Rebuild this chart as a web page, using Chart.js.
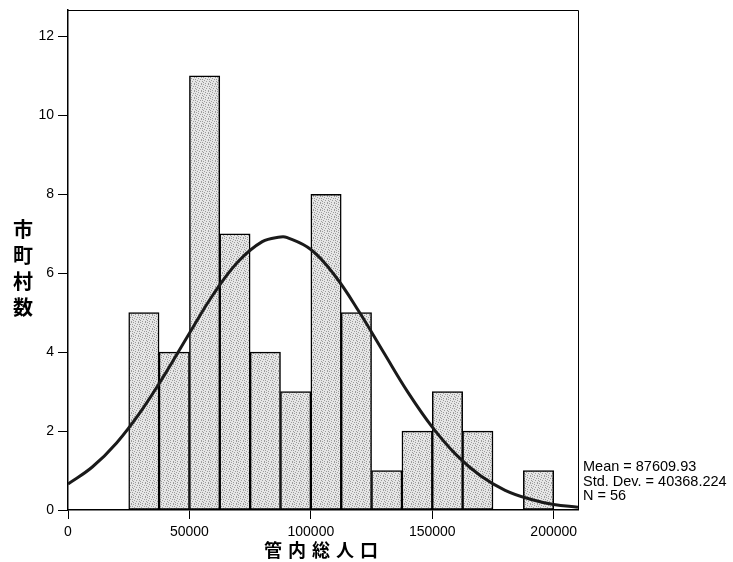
<!DOCTYPE html>
<html>
<head>
<meta charset="utf-8">
<script src="https://cdn.jsdelivr.net/npm/chart.js@4/dist/chart.umd.min.js"></script>
<style>
  html, body { margin: 0; padding: 0; background: #fff; }
</style>
</head>
<body>
<canvas id="histChart" width="733" height="562"></canvas>
<script>
// bin centres (bin width 12500) and counts
var binCenters = [31250, 43750, 56250, 68750, 81250, 93750, 106250, 118750, 131250, 143750, 156250, 168750, 181250, 193750];
var binCounts = [5, 4, 11, 7, 4, 3, 8, 5, 1, 2, 3, 2, 0, 1];

// normal curve
var curveX = [0, 10000, 20000, 30000, 40000, 50000, 60000, 70000, 80000, 87500, 90000, 100000, 110000, 120000, 130000, 140000, 150000, 160000, 170000, 180000, 190000, 200000, 210000];
var curveY = [0.66, 1.09, 1.70, 2.50, 3.45, 4.48, 5.48, 6.29, 6.80, 6.92, 6.91, 6.60, 5.93, 5.01, 3.99, 2.98, 2.10, 1.39, 0.86, 0.50, 0.28, 0.14, 0.07];

var xTicks = [0, 50000, 100000, 150000, 200000];
var yTicks = [0, 2, 4, 6, 8, 10, 12];

var statLines = ['Mean = 87609.93', 'Std. Dev. = 40368.224', 'N = 56'];
var xTitle = '管内総人口';
var yTitle = '市町村数';

// stippled grey fill like the original print (fixed 8x8 dot mask)
var dotMask = [
  '1000010',
  '0010000',
  '0000101',
  '0100000',
  '0001001',
  '1000000',
  '0010010'
];
function makePattern() {
  var n = dotMask.length;
  var c = document.createElement('canvas');
  c.width = n; c.height = n;
  var g = c.getContext('2d');
  g.fillStyle = '#e6e6e6';
  g.fillRect(0, 0, n, n);
  g.fillStyle = '#9c9c9c';
  dotMask.forEach(function (row, y) {
    for (var x = 0; x < row.length; x++) {
      if (row[x] === '1') g.fillRect(x, y, 1, 1);
    }
  });
  return g.createPattern(c, 'repeat');
}

var framePlugin = {
  id: 'frame',
  afterDraw: function (chart) {
    var ctx = chart.ctx, a = chart.chartArea;
    ctx.save();
    ctx.strokeStyle = '#000';
    ctx.lineWidth = 1;
    ctx.beginPath();
    ctx.moveTo(a.left, a.top + 0.5);
    ctx.lineTo(a.right + 0.5, a.top + 0.5);
    ctx.lineTo(a.right + 0.5, a.bottom);
    ctx.stroke();

    ctx.fillStyle = '#000';
    ctx.font = '14.5px "Liberation Sans", Arial, sans-serif';
    ctx.textAlign = 'left';
    ctx.textBaseline = 'middle';
    statLines.forEach(function (t, i) {
      ctx.fillText(t, a.right + 5, 467 + i * 14.5);
    });

    ctx.font = 'bold 20px "Noto Sans CJK JP", sans-serif';
    ctx.textAlign = 'center';
    for (var i = 0; i < yTitle.length; i++) {
      ctx.fillText(yTitle[i], 23, 229 + i * 26);
    }
    ctx.font = 'bold 18px "Noto Sans CJK JP", sans-serif';
    var cx = (a.left + a.right) / 2;
    for (var j = 0; j < xTitle.length; j++) {
      ctx.fillText(xTitle[j], cx - 2 + (j - 2) * 24, 550);
    }
    ctx.restore();
  }
};

var ctx = document.getElementById('histChart').getContext('2d');
new Chart(ctx, {
  type: 'bar',
  data: {
    datasets: [{
      type: 'line',
      data: curveX.map(function (x, i) { return { x: x, y: curveY[i] }; }),
      borderColor: '#1a1a1a',
      borderWidth: 3,
      pointRadius: 0,
      tension: 0.4,
      fill: false,
      order: 0
    }, {
      type: 'bar',
      data: binCenters.map(function (x, i) { return { x: x, y: binCounts[i] }; }),
      backgroundColor: makePattern(),
      borderColor: '#000',
      borderWidth: 1.5,
      borderSkipped: false,
      barPercentage: 1,
      categoryPercentage: 1,
      order: 1
    }]
  },
  options: {
    responsive: false,
    animation: false,
    layout: { padding: { left: 0, top: 10, right: 155, bottom: 0 } },
    plugins: { legend: { display: false }, tooltip: { enabled: false } },
    scales: {
      x: {
        type: 'linear',
        min: 0,
        max: 210000,
        offset: false,
        afterFit: function (s) { s.height = 52; s.paddingLeft = 0; s.paddingRight = 0; },
        afterBuildTicks: function (s) { s.ticks = xTicks.map(function (v) { return { value: v }; }); },
        grid: { offset: false, drawOnChartArea: false, drawTicks: true, tickLength: 9, color: '#000', lineWidth: 1 },
        border: { display: true, color: '#000', width: 1.5 },
        ticks: {
          color: '#000',
          maxRotation: 0,
          padding: 5,
          font: { family: '"Liberation Sans", Arial, sans-serif', size: 14 },
          callback: function (v) { return String(v); }
        }
      },
      y: {
        min: 0,
        max: 12.67,
        afterFit: function (s) { s.width = 68; s.paddingTop = 0; s.paddingBottom = 0; },
        afterBuildTicks: function (s) { s.ticks = yTicks.map(function (v) { return { value: v }; }); },
        grid: { drawOnChartArea: false, drawTicks: true, tickLength: 10, color: '#000', lineWidth: 1 },
        border: { display: true, color: '#000', width: 1.5 },
        ticks: {
          color: '#000',
          padding: 4,
          font: { family: '"Liberation Sans", Arial, sans-serif', size: 14 }
        }
      }
    }
  },
  plugins: [framePlugin]
});
</script>
</body>
</html>
